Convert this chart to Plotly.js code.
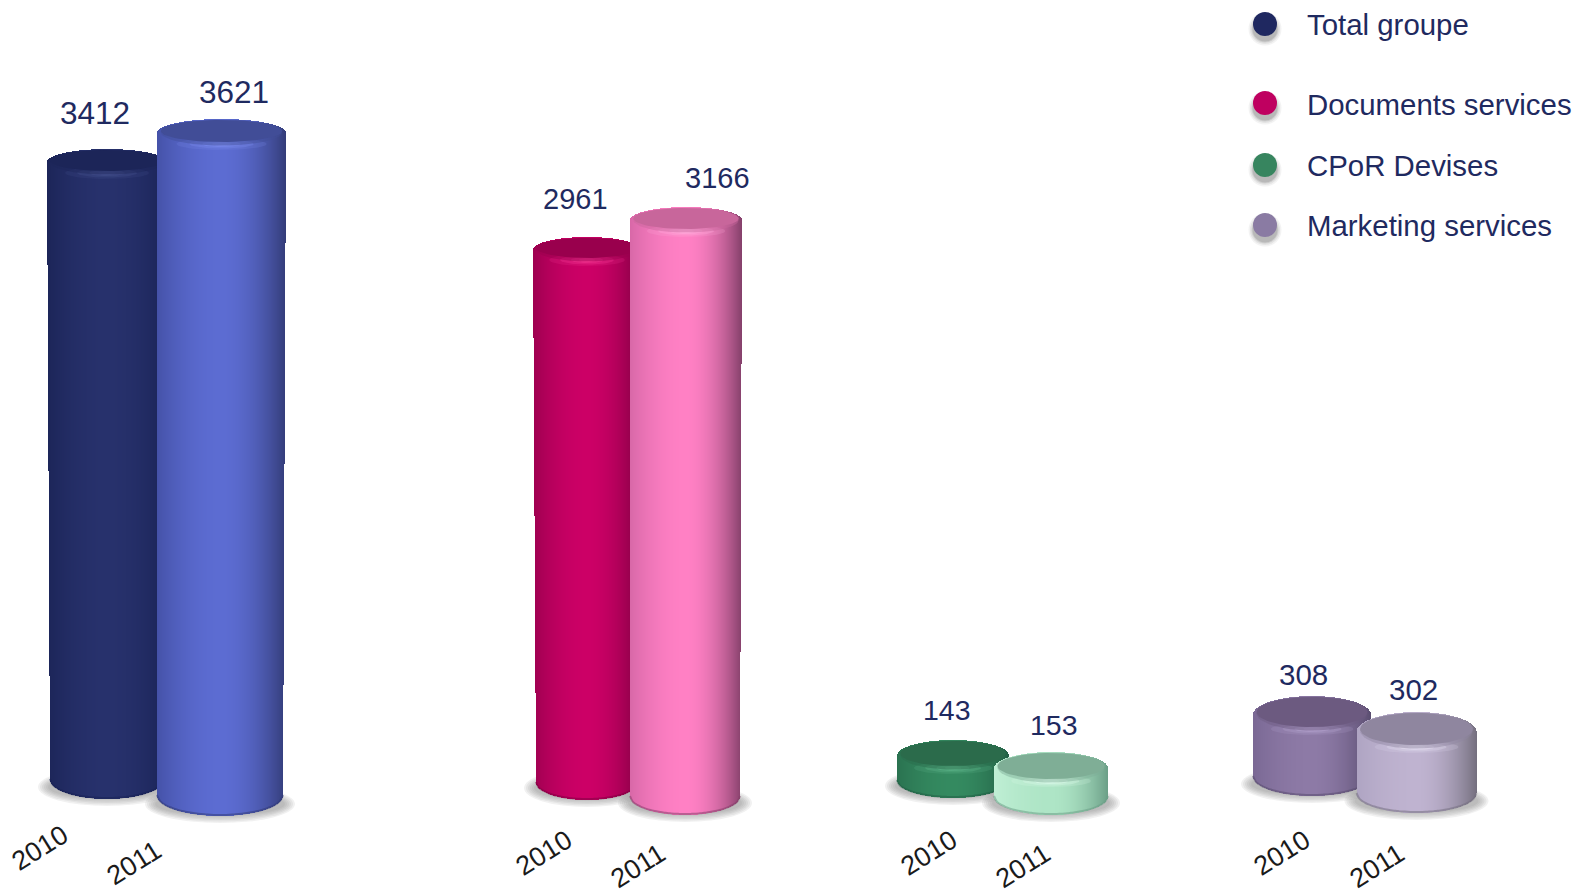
<!DOCTYPE html>
<html>
<head>
<meta charset="utf-8">
<script src="https://cdn.plot.ly/plotly-3.0.1.min.js"></script>
<style>html,body{margin:0;padding:0;background:#fff;overflow:hidden}</style>
</head>
<body>
<div id="chart" style="width:1588px;height:893px"></div>
<script>
// ---- data ----
const categories = ["Total groupe", "Documents services", "CPoR Devises", "Marketing services"];
const years = ["2010", "2011"];
const values2010 = [3412, 2961, 143, 308];
const values2011 = [3621, 3166, 153, 302];

// ---- styling and layout, in pixels of the 1588x893 page ----
const centerX = [[107, 221.5], [587, 686], [953, 1051], [1312, 1416.5]];
const halfW   = [[60, 64.5], [54, 56], [56, 57], [59, 60]];
const taperL  = [[3, 0], [3, 0], [0, 0], [0, 0]];
const taperR  = [[3, 3], [3, 2], [0, 0], [0, 0]];
const topPx   = [[149, 119], [237, 207], [740, 752], [696, 712]];
const botPx   = [[799, 816], [800, 815], [798, 815], [796, 813]];
const botB    = [[20, 21], [18, 19], [18, 19], [20, 20]];
const capRy   = [[10.5, 11], [10, 10.5], [12.5, 13], [15, 16]];
const labelX  = [[95, 234], [575, 717], [947, 1054], [1303, 1413]];
const labelY  = [[113, 92], [199, 178], [710, 725], [674, 689]];
const labelSize = [31.5, 29, 28.5, 29.5];
const yearX   = [[40, 134], [544, 638], [929, 1023], [1282, 1377]];
const yearY   = [[848, 863], [853, 866], [853, 866], [853, 866]];
const legendY = [24, 103, 165, 225];
const legendTextY = [24, 104, 165, 225];
const legendColors = ["#1f2860", "#bf0060", "#37855f", "#8a7ba3"];
const TEXT = "#1f2a60";
const FONT = "Liberation Sans, Arial, sans-serif";
// [centre, left edge, right edge, flat cap, highlight]
const palette = [
  [["#27316c", "#1c2558", "#1a2356", "#1c2558", "#46528f"], ["#5c6cd2", "#4552a8", "#333c78", "#414d97", "#7f8ff0"]],
  [["#cc0066", "#9e0050", "#7f0042", "#99004d", "#f53a94"], ["#ff80c4", "#d868a8", "#84406a", "#c8669b", "#ffb0de"]],
  [["#348a60", "#2a7250", "#235f45", "#2b6b4b", "#62b88e"], ["#aee5c6", "#c0efd5", "#6b9f87", "#7fae96", "#e2fdf0"]],
  [["#8d7aa6", "#7a6894", "#5a4d70", "#6c5a80", "#b6a4d0"], ["#bfb3d0", "#aea4c2", "#75707f", "#8f869f", "#e6e0f2"]]
];

function hex(c) { return [1, 3, 5].map(i => parseInt(c.substr(i, 2), 16)); }
function mix(a, b, t) {
  const A = hex(a), B = hex(b);
  return "rgb(" + A.map((v, i) => Math.round(v + (B[i] - v) * t)).join(",") + ")";
}
function ellipse(cx, cy, rx, ry, toY) {
  const xs = [], ys = [];
  for (let i = 0; i <= 64; i++) {
    const a = i / 64 * 2 * Math.PI;
    xs.push(cx + rx * Math.cos(a));
    ys.push(toY(cy + ry * Math.sin(a)));
  }
  return { x: xs, y: ys };
}

const traces = [], shapes = [], annotations = [];
const layout = {
  width: 1588, height: 893,
  margin: { l: 0, r: 0, t: 0, b: 0 },
  paper_bgcolor: "#ffffff", plot_bgcolor: "#ffffff",
  showlegend: false, barmode: "overlay", bargap: 0, hovermode: false,
  xaxis: { range: [0, 1588], visible: false, fixedrange: true },
  shapes, annotations
};

const PIXEL_AXIS = "y9";
layout.yaxis9 = { range: [893, 0], visible: false, fixedrange: true, overlaying: "y", anchor: "x" };

let axisNo = 0;
categories.forEach((cat, g) => {
  [values2010[g], values2011[g]].forEach((value, yi) => {
    axisNo++;
    const yName = axisNo === 1 ? "y" : "y" + axisNo;
    const cx = centerX[g][yi], hw = halfW[g][yi], T = topPx[g][yi], B = botPx[g][yi];
    const b = botB[g][yi], ry = capRy[g][yi], bTop = ry * 1.25;
    const tL = taperL[g][yi], tR = taperR[g][yi];
    const xL = cx - hw + tL, xR = cx + hw - tR, cB = (xL + xR) / 2, hB = (xR - xL) / 2;
    const [cC, cL, cR, cCap, cHi] = palette[g][yi];
    const base = B - b;                              // pixel of value 0
    const k = (base - (T + bTop)) / value;           // pixels per unit of this bar
    const toY = p => (base - p) / k;
    const ax = { range: [(base - 893) / k, base / k], visible: false, fixedrange: true, anchor: "x" };
    if (axisNo > 1) ax.overlaying = "y";
    layout["yaxis" + (axisNo === 1 ? "" : axisNo)] = ax;

    // soft floor shadow
    for (let i = 0; i < 6; i++) {
      shapes.push({
        type: "circle", layer: "below", xref: "x", yref: PIXEL_AXIS,
        x0: cB - hB - 12 + i * 2, x1: cB + hB + 12 - i * 2,
        y0: B - 12 - 19 + i * 1.5, y1: B - 12 + 19 - i * 1.5,
        fillcolor: "rgba(120,120,120,0.10)", line: { width: 0 }
      });
    }

    // the cylinder: one value, drawn as narrow shaded columns of the bar
    const xs = [], bases = [], ys = [], cols = [];
    for (let px = Math.round(cx - hw); px < cx + hw; px += 1) {
      const mid = px + 0.5;
      const f = Math.max(-0.999, Math.min(0.999, (mid - cx) / hw));
      const s = Math.sqrt(1 - f * f);
      const fb = (mid - cB) / hB;
      let y0;
      if (Math.abs(fb) < 1) {
        y0 = -b * Math.sqrt(1 - fb * fb) / k;
      } else {
        // tapered side: the outer column stops higher up the bar
        const d = mid < cB ? (xL - mid) / Math.max(tL, 1) : (mid - xR) / Math.max(tR, 1);
        y0 = value * Math.max(0, Math.min(1, d));
      }
      const y1 = value + bTop * s / k;
      xs.push(mid); bases.push(y0); ys.push(y1 - y0);
      cols.push(mix(cC, f < 0 ? cL : cR, Math.pow(Math.abs(f), 1.9)));
    }
    traces.push({
      type: "bar", name: cat + " " + years[yi], x: xs, y: ys, base: bases,
      width: xs.map(() => 1), marker: { color: cols, line: { width: 0 } },
      xaxis: "x", yaxis: yName, hoverinfo: "skip"
    });

    // darker rim along the foot
    const ax2 = [], ay2 = [];
    for (let i = 0; i <= 40; i++) {
      const f = -1 + i / 20, s = Math.sqrt(Math.max(0, 1 - f * f));
      ax2.push(cB + hB * f); ay2.push(toY(base + (b - 1) * s));
    }
    traces.push({
      type: "scatter", mode: "lines", x: ax2, y: ay2, xaxis: "x", yaxis: yName,
      line: { color: cR, width: 2, shape: "spline" }, opacity: 0.55, hoverinfo: "skip"
    });

    // top: highlight glow, soft bevel, flat cap
    const capCy = T + ry + 1, rx = hw * 0.94;
    const fillEll = (cxx, cyy, rxx, ryy, col, op) => {
      const e = ellipse(cxx, cyy, rxx, ryy, toY);
      traces.push({
        type: "scatter", mode: "lines", x: e.x, y: e.y, xaxis: "x", yaxis: yName,
        fill: "toself", fillcolor: col, line: { width: 0 }, opacity: op, hoverinfo: "skip"
      });
    };
    const hiY = T + 2 * ry + 3;
    fillEll(cx, hiY, hw * 0.7, 6, cHi, 0.18);
    fillEll(cx, hiY, hw * 0.5, 4.5, cHi, 0.3);
    fillEll(cx, hiY, hw * 0.3, 3, cHi, 0.45);
    fillEll(cx, hiY, hw * 0.15, 2, cHi, 0.5);
    fillEll(cx, capCy + 1.5, rx, ry + 2, cCap, 0.45);
    fillEll(cx, capCy, rx, ry, cCap, 1);

    // value label and year label
    annotations.push({
      xref: "x", yref: PIXEL_AXIS, x: labelX[g][yi], y: labelY[g][yi], text: String(value),
      showarrow: false, xanchor: "center", yanchor: "middle",
      font: { family: FONT, size: labelSize[g], color: TEXT }
    });
    annotations.push({
      xref: "x", yref: PIXEL_AXIS, x: yearX[g][yi], y: yearY[g][yi], text: years[yi],
      showarrow: false, xanchor: "center", yanchor: "middle", textangle: -32,
      font: { family: FONT, size: 27, color: "#1a1a1a" }
    });
  });
});

// legend
const legendX = categories.map(() => 1265);
[[33, 0.07], [30, 0.1], [27, 0.14], [25, 0.18]].forEach(([size, op]) => {
  traces.push({
    type: "scatter", mode: "markers", x: legendX, y: legendY.map(v => v + 5), xaxis: "x", yaxis: PIXEL_AXIS,
    marker: { size, color: "#555555", opacity: op, line: { width: 0 } }, hoverinfo: "skip"
  });
});
traces.push({
  type: "scatter", mode: "markers", x: legendX, y: legendY, xaxis: "x", yaxis: PIXEL_AXIS,
  marker: { size: 24, color: legendColors, line: { width: 0 } }, hoverinfo: "skip"
});
categories.forEach((cat, i) => {
  annotations.push({
    xref: "x", yref: PIXEL_AXIS, x: 1305, y: legendTextY[i], text: cat, showarrow: false,
    xanchor: "left", yanchor: "middle",
    font: { family: FONT, size: 29.4, color: TEXT }
  });
});

Plotly.newPlot("chart", traces, layout, { staticPlot: true, displayModeBar: false });
</script>
</body>
</html>
